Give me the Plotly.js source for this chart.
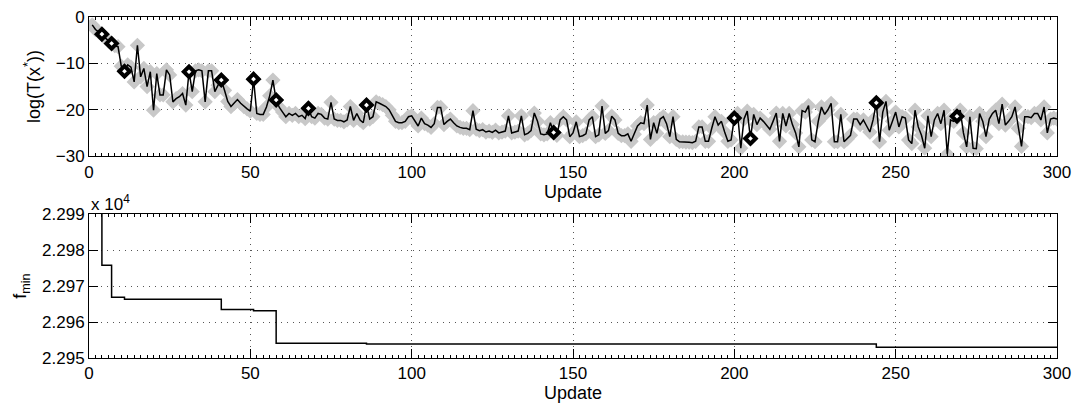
<!DOCTYPE html>
<html>
<head>
<meta charset="utf-8">
<script src="https://cdn.plot.ly/plotly-3.0.1.min.js"></script>
<style>html,body{margin:0;padding:0;background:#fff;}#chart{width:1073px;height:403px;}</style>
</head>
<body>
<div id="chart"></div>
<script>
// log(T(x*)) per update (updates 1..300)
const logT = [
 -1.7,-2.7,-3.2,-3.7,-4.5,-5.2,-5.7,-6.2,-6.4,-10.6,
 -11.7,-10.3,-10.8,-14,-6.1,-12.9,-11.1,-15,-11.8,-20.1,
 -12.2,-16.8,-16.8,-11.4,-12.5,-18.3,-17.6,-17.2,-16.5,-19,
 -11.8,-16.1,-11.6,-11.4,-11.6,-18.3,-11.6,-11.6,-16.1,-14.7,
 -13.6,-15.8,-18.2,-19.3,-18.6,-17.8,-18.6,-19.3,-19.8,-20.3,
 -13.4,-20.8,-21,-21,-19.4,-17,-13.6,-17.9,-19.5,-20.5,
 -21.5,-20.8,-21.2,-20.8,-21.5,-21.2,-21.9,-19.7,-21.5,-21.8,
 -20.8,-21,-21.8,-22,-18.4,-22,-22.3,-22.3,-22.6,-22.2,
 -19.3,-22.3,-20.8,-22.2,-22.8,-19,-22,-21.5,-18.3,-18.6,
 -18.9,-19.3,-20,-21.2,-22.5,-22.8,-22.8,-22.5,-21.5,-21.3,
 -22.5,-23.5,-21.8,-23,-23.3,-23.8,-23,-19.5,-19.5,-23.2,
 -22.5,-22,-22.8,-23.5,-23.8,-24,-24,-24.3,-20.2,-24.2,
 -24.5,-24.3,-24.8,-24.6,-24.9,-24.4,-25,-24.8,-24.6,-21.3,
 -25,-24.8,-24.6,-21.3,-25.4,-25.1,-24.5,-20.7,-22.5,-25.2,
 -25.4,-25.2,-22.8,-24.9,-25.5,-22.2,-21.5,-22.2,-25.8,-25,
 -22.6,-25.8,-25.6,-25.2,-22.2,-21.5,-25.8,-25.4,-19.2,-25.1,
 -24.5,-21.4,-22.2,-25.1,-25.6,-25.6,-25.2,-26.8,-25.3,-23.5,
 -22.8,-23,-19,-26.4,-22.8,-25.1,-22,-21.5,-23,-25.8,
 -21.5,-26.4,-26.9,-26.9,-27,-27,-27.1,-26.8,-23.7,-23.7,
 -26.8,-26.8,-24,-21.5,-23.3,-22.5,-24.8,-26.8,-26.5,-21.8,
 -20.8,-28.3,-22,-20.3,-26.2,-21,-23.2,-21.8,-22.5,-23.3,
 -24.2,-22.5,-20.7,-26.8,-20.8,-23.5,-20.8,-23.2,-25,-28,
 -20.2,-20.5,-19.1,-26.5,-26.9,-22.5,-19.4,-21,-20,-18.6,
 -26.9,-26.9,-21,-26.9,-26.3,-25.5,-22,-22,-23.2,-22.2,
 -23.5,-24.8,-22.2,-18.5,-26.9,-20.5,-18.2,-24.4,-22.5,-20.5,
 -23.7,-21.5,-21.8,-26.5,-27.3,-20.1,-23.7,-25.5,-28.3,-21.3,
 -25.8,-22.2,-20.8,-23,-20.1,-29.6,-22.2,-22.5,-21.4,-20.1,
 -25,-28,-21.5,-28.3,-28.4,-20.8,-22.5,-25.8,-22,-20.8,
 -20.1,-23,-18.8,-23.3,-22.5,-21.5,-19.4,-24,-27.9,-21.5,
 -21.5,-21.7,-20.8,-20.8,-22.2,-19.4,-25,-22,-21.8,-22
];
// updates marked with black diamonds
const markedUpdates = [4, 7, 11, 31, 41, 51, 58, 68, 86, 144, 200, 205, 244, 269];
// f_min step function (x 10^4)
const fminUpdates = [1, 4, 7, 11, 41, 51, 58, 86, 244, 300];
const fminValues = [2.2995, 2.29758, 2.29669, 2.29663, 2.29635, 2.29631, 2.29541, 2.29539, 2.29530, 2.29530];
const xTicks = [0, 50, 100, 150, 200, 250, 300];
const topYTicks = [-30, -20, -10, 0];
const botYTicks = [2.295, 2.296, 2.297, 2.298, 2.299];

const updates = logT.map((_, i) => i + 1);
const markedY = markedUpdates.map(u => logT[u - 1]);

const FONT = '"Liberation Sans", Arial, Helvetica, sans-serif';
const grid = {showgrid: true, gridcolor: '#555', gridwidth: 1, griddash: '1px,5px'};

const traces = [
  {x: updates, y: logT, type: 'scatter', mode: 'markers', xaxis: 'x', yaxis: 'y',
   marker: {symbol: 'diamond', size: 9, color: '#c8c8c8', line: {color: '#c8c8c8', width: 2.5}},
   hoverinfo: 'skip', showlegend: false},
  {x: updates, y: logT, type: 'scatter', mode: 'lines', xaxis: 'x', yaxis: 'y',
   line: {color: '#000', width: 1.5}, showlegend: false},
  {x: markedUpdates, y: markedY, type: 'scatter', mode: 'markers', xaxis: 'x', yaxis: 'y',
   marker: {symbol: 'diamond', size: 8, color: '#fff', line: {color: '#000', width: 4}}, showlegend: false},
  {x: fminUpdates, y: fminValues, type: 'scatter', mode: 'lines', xaxis: 'x2', yaxis: 'y2',
   line: {color: '#000', width: 1.5, shape: 'hv'}, showlegend: false}
];

const xCommon = Object.assign({
  range: [0, 300], tickvals: xTicks, ticks: 'inside', ticklen: 9, tickcolor: '#000',
  showline: true, linecolor: '#000', linewidth: 1, mirror: 'ticks', zeroline: false,
  minor: {ticks: 'inside', ticklen: 3, dtick: 2, tickcolor: '#000', showgrid: false},
  tickfont: {family: FONT, size: 17, color: '#000'},
  title: {text: 'Update', font: {family: FONT, size: 18, color: '#000'}, standoff: 2}
}, grid);

const layout = {
  width: 1073, height: 403,
  margin: {l: 89, r: 16, t: 17, b: 45},
  paper_bgcolor: '#fff', plot_bgcolor: '#fff',
  font: {family: FONT, color: '#000'},
  xaxis: Object.assign({}, xCommon, {anchor: 'y', domain: [0, 1]}),
  xaxis2: Object.assign({}, xCommon, {anchor: 'y2', domain: [0, 1]}),
  yaxis: Object.assign({
    domain: [0.592, 1], range: [-30, 0], tickvals: topYTicks, ticks: 'inside', ticklen: 9,
    tickcolor: '#000', showline: true, linecolor: '#000', linewidth: 1, mirror: 'ticks', zeroline: false,
    tickfont: {family: FONT, size: 17, color: '#000'},
    title: {text: 'log(T(x<sup>*</sup>))', font: {family: FONT, size: 18, color: '#000'}, standoff: 10}
  }, grid),
  yaxis2: Object.assign({
    domain: [0, 0.422], range: [2.295, 2.299], tickvals: botYTicks, tickformat: '.3f', ticks: 'inside', ticklen: 9,
    tickcolor: '#000', showline: true, linecolor: '#000', linewidth: 1, mirror: 'ticks', zeroline: false,
    tickfont: {family: FONT, size: 17, color: '#000'},
    title: {text: 'f<sub>min</sub>', font: {family: FONT, size: 18, color: '#000'}, standoff: 10}
  }, grid),
  annotations: [{
    text: 'x 10<sup>4</sup>', xref: 'paper', yref: 'paper', x: 0, y: 0.422, xanchor: 'left', yanchor: 'bottom',
    showarrow: false, font: {family: FONT, size: 17, color: '#000'}, yshift: -2
  }]
};

Plotly.newPlot('chart', traces, layout, {staticPlot: true, displayModeBar: false});
</script>
</body>
</html>
